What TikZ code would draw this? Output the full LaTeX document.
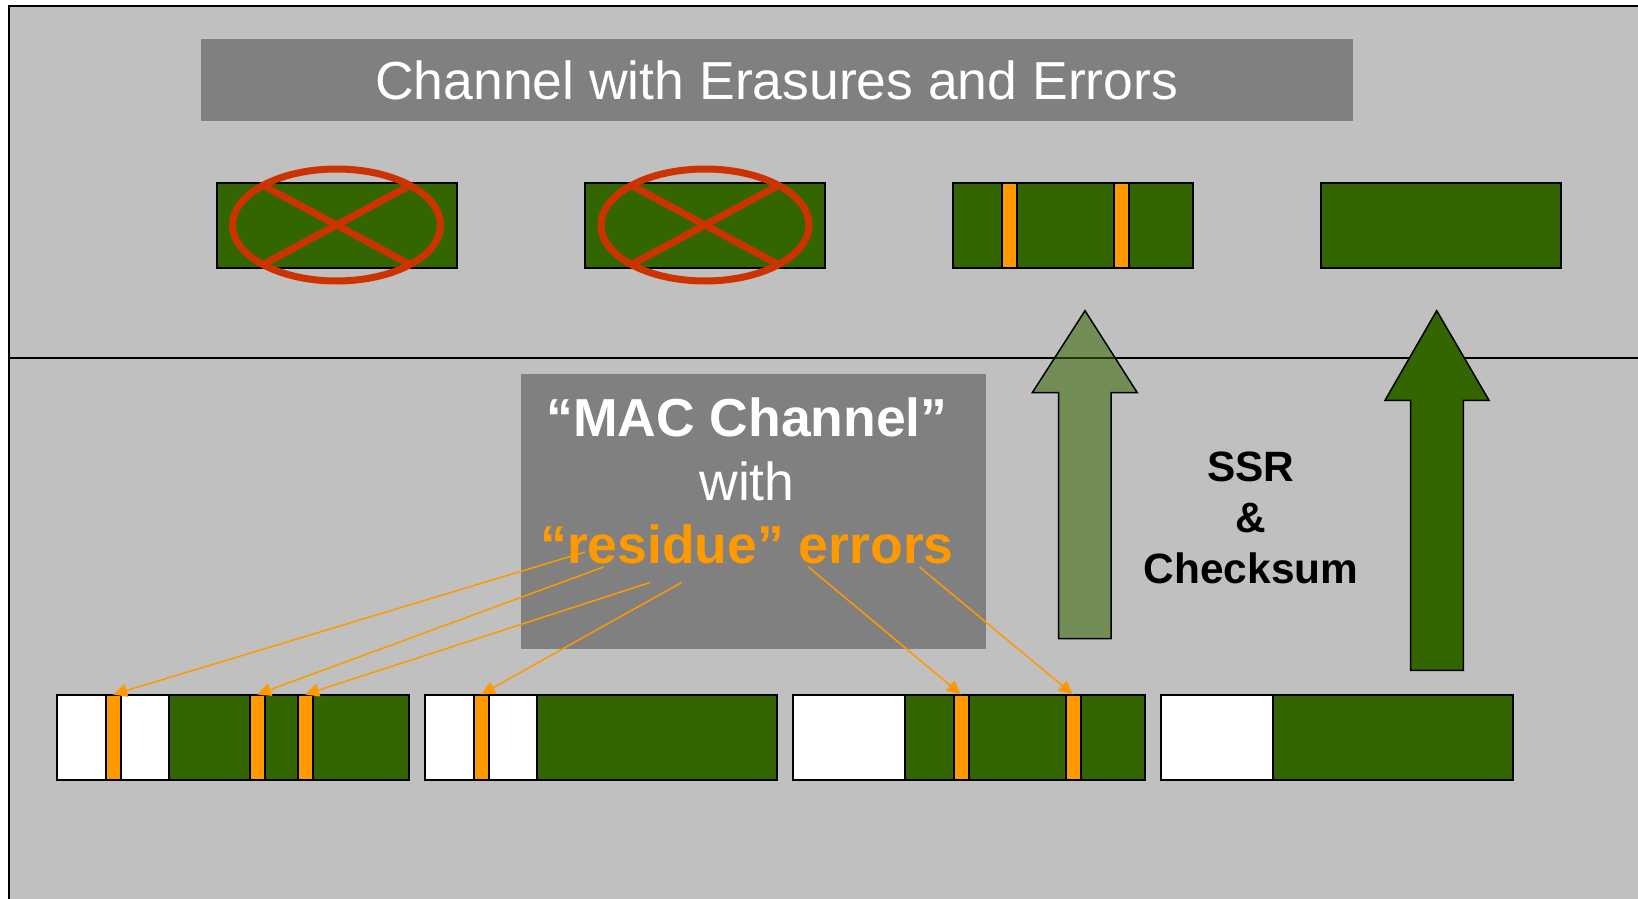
\documentclass[tikz,border=0pt]{standalone}
\usepackage{fontspec}
\setmainfont{Liberation Sans}
\usetikzlibrary{arrows.meta}
\definecolor{bggray}{HTML}{C0C0C0}
\definecolor{boxgray}{HTML}{808080}
\definecolor{pktgreen}{HTML}{336600}
\definecolor{errorange}{HTML}{FF9900}
\definecolor{crossred}{HTML}{CC3300}

\begin{document}
\begin{tikzpicture}[x=1pt, y=-1pt, >={Triangle[length=14pt, width=13pt]},
    packet/.style={draw, line width=2pt, fill=pktgreen, minimum width=240pt, minimum height=85pt, inner sep=0pt, outer sep=0pt},
    header/.style={draw, line width=2pt, fill=white, minimum width=112pt, minimum height=85pt, inner sep=0pt, outer sep=0pt},
    errbar/.style={draw, line width=2pt, fill=errorange, minimum width=15pt, minimum height=85pt, inner sep=0pt, outer sep=0pt},
    errline/.style={->, draw=errorange, fill=errorange, line width=1.5pt},
    erased/.style={draw=crossred, line width=7pt},
    banner/.style={fill=boxgray, text=white, inner sep=0pt},
    bigarrow/.style={draw, line width=1.5pt, fill=pktgreen}]
    \useasboundingbox (0,0) rectangle (1638,899);
    \clip (0,0) rectangle (1638,899);

    % Background and layers
    \draw[line width=2pt, fill=bggray] (9,6.5) rectangle (1700,1000);
    \draw[line width=1.5pt] (9,358) -- (1700,358);
    \node[banner, minimum width=1152pt, minimum height=82.6pt, font=\fontsize{53.5}{64}\selectfont] (title) at (776.7,80) {Channel with Erasures and Errors};

    % Define packets on the channel
    \node[packet] (pk1) at (336.5,225) {};
    \node[packet] (pk2) at (705,225) {};
    \node[packet] (pk3) at (1073,225) {};
    \node[packet] (pk4) at (1441,225) {};
    \node[errbar] (t1) at (1009,225) {};
    \node[errbar] (t2) at (1121,225) {};

    % Erased packets
    \draw[erased] (pk1) ellipse [x radius=104, y radius=56];
    \draw[erased] ([shift={(-73.5,-39.6)}]pk1.center) -- ([shift={(73.5,39.6)}]pk1.center);
    \draw[erased] ([shift={(-73.5,39.6)}]pk1.center) -- ([shift={(73.5,-39.6)}]pk1.center);
    \draw[erased] (pk2) ellipse [x radius=104, y radius=56];
    \draw[erased] ([shift={(-73.5,-39.6)}]pk2.center) -- ([shift={(73.5,39.6)}]pk2.center);
    \draw[erased] ([shift={(-73.5,39.6)}]pk2.center) -- ([shift={(73.5,-39.6)}]pk2.center);

    % Up arrows
    \draw[bigarrow, fill opacity=0.55] (1058.7,638.7) -- (1058.7,392.7) -- (1032.3,392.7) -- (1085,310.7) -- (1137.3,392.7) -- (1111,392.7) -- (1111,638.7) -- cycle;
    \draw[bigarrow] (1410.7,670.3) -- (1410.7,400.3) -- (1385,400.3) -- (1436.7,310.7) -- (1489,400.3) -- (1463.3,400.3) -- (1463.3,670.3) -- cycle;
    \node[align=center, font=\fontsize{42.4}{51}\selectfont\bfseries] (ssr) at (1251,518) {SSR\\\&\\Checksum};

    % MAC channel box
    \node[banner, minimum width=464.7pt, minimum height=275pt] (macbox) at (753.4,511.5) {};
    \node[align=center, text=white, font=\fontsize{53.5}{63.5}\selectfont] (mactext) at (747,481)
        {\textbf{“MAC Channel”}\\with\\\textcolor{errorange}{\textbf{“residue” errors}}};

    % Define packets after the MAC
    \node[header] (h1) at (112.6,737) {};
    \node[packet, anchor=west] (b1) at (h1.east) {};
    \node[header] (h2) at (480.7,737) {};
    \node[packet, anchor=west] (b2) at (h2.east) {};
    \node[header] (h3) at (848.8,737) {};
    \node[packet, anchor=west] (b3) at (h3.east) {};
    \node[header] (h4) at (1216.9,737) {};
    \node[packet, anchor=west] (b4) at (h4.east) {};
    \node[errbar] (e1) at (113,737) {};
    \node[errbar] (e2) at (257,737) {};
    \node[errbar] (e3) at (305,737) {};
    \node[errbar] (e4) at (481,737) {};
    \node[errbar] (e5) at (961,737) {};
    \node[errbar] (e6) at (1073,737) {};

    % Residue errors
    \coordinate (r1) at (585,552);
    \coordinate (r2) at (603.5,567);
    \coordinate (r3) at (650,582.5);
    \coordinate (r4) at (681.5,582.5);
    \coordinate (r5) at (808.5,567);
    \coordinate (r6) at (919.5,567);
    \draw[errline] (r1) -- (e1.north);
    \draw[errline] (r2) -- (e2.north);
    \draw[errline] (r3) -- (e3.north);
    \draw[errline] (r4) -- (e4.north);
    \draw[errline] (r5) -- (e5.north);
    \draw[errline] (r6) -- (e6.north);
\end{tikzpicture}
\end{document}
